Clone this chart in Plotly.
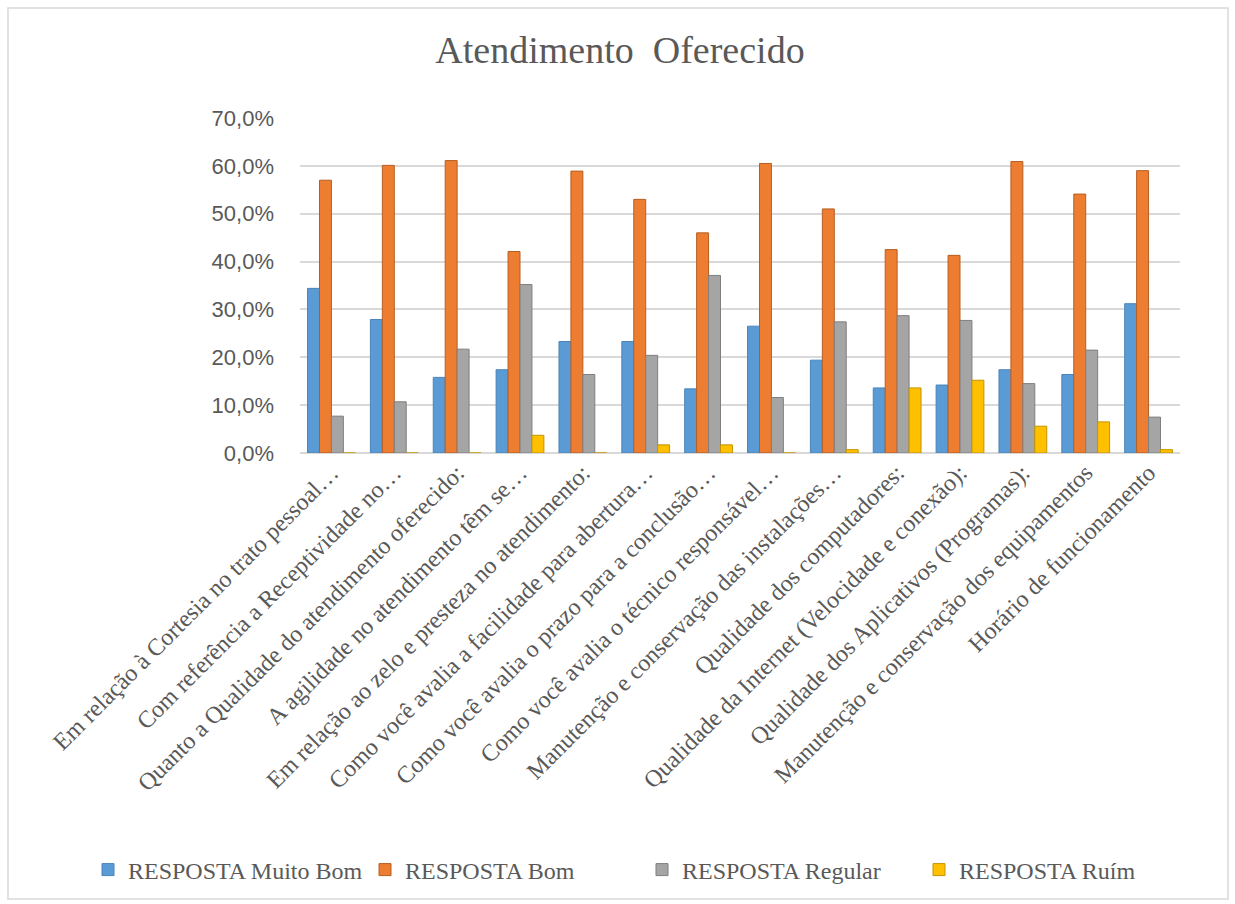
import plotly.graph_objects as go

categories = [
    "Em relação à Cortesia no trato pessoal…",
    "Com referência a Receptividade no…",
    "Quanto a Qualidade do atendimento oferecido:",
    "A agilidade no atendimento têm se…",
    "Em relação ao zelo e presteza no atendimento:",
    "Como você avalia a facilidade para abertura…",
    "Como você avalia o prazo para a conclusão…",
    "Como você avalia o técnico responsável…",
    "Manutenção e conservação das instalações…",
    "Qualidade dos computadores:",
    "Qualidade da Internet (Velocidade e conexão):",
    "Qualidade dos Aplicativos (Programas):",
    "Manutenção e conservação dos equipamentos",
    "Horário de funcionamento",
]

muito_bom = [34.4, 27.9, 15.8, 17.4, 23.3, 23.3, 13.4, 26.5, 19.4, 13.6, 14.2, 17.4, 16.4, 31.2]
bom = [57.0, 60.1, 61.1, 42.1, 58.9, 53.0, 46.0, 60.5, 51.0, 42.5, 41.3, 60.9, 54.1, 59.0]
regular = [7.7, 10.7, 21.7, 35.2, 16.4, 20.4, 37.1, 11.6, 27.4, 28.7, 27.7, 14.5, 21.5, 7.5]
ruim = [0.0, 0.0, 0.0, 3.7, 0.0, 1.7, 1.7, 0.0, 0.7, 13.6, 15.2, 5.6, 6.5, 0.7]

series_names = ["RESPOSTA Muito Bom", "RESPOSTA Bom", "RESPOSTA Regular", "RESPOSTA Ruím"]
series_values = [muito_bom, bom, regular, ruim]
colors = ["#5B9BD5", "#ED7D31", "#A5A5A5", "#FFC000"]
edge_colors = ["#4A84B8", "#B65E22", "#7F7F7F", "#C49400"]
y_ticks = [0, 10, 20, 30, 40, 50, 60, 70]
y_tick_text = [f"{v:.1f}%".replace(".", ",") for v in y_ticks]

fig = go.Figure()
for name, vals, c, ec in zip(series_names, series_values, colors, edge_colors):
    fig.add_trace(go.Bar(
        x=categories, y=vals, name=name,
        marker=dict(color=c, line=dict(color=ec, width=1)),
    ))

W, H = 1235, 904
ml, mr, mt, mb = 300, 55, 118, 451
pw = W - ml - mr
ph = H - mt - mb

def px(xpix):
    return (xpix - ml) / pw

def py(ypix):
    return (H - mb - ypix) / ph

fig.update_layout(
    width=W, height=H,
    margin=dict(l=ml, r=mr, t=mt, b=mb, autoexpand=False),
    paper_bgcolor="white", plot_bgcolor="white",
    barmode="group", bargap=0.24, bargroupgap=0.0,
    title=dict(
        text="Atendimento  Oferecido",
        x=0.502, xref="container", xanchor="center",
        y=1 - 50 / H, yref="container", yanchor="middle",
        font=dict(family="Liberation Serif", size=38, color="#595959"),
    ),
    xaxis=dict(
        tickangle=-45,
        tickfont=dict(family="Liberation Serif", size=24, color="#595959"),
        showline=False, showgrid=False, ticks="",
    ),
    yaxis=dict(
        range=[0, 70], tickvals=y_ticks, ticktext=y_tick_text,
        tickfont=dict(family="Liberation Sans", size=22, color="#595959"),
        showgrid=True, gridcolor="#D9D9D9", gridwidth=2,
        zeroline=True, zerolinecolor="#D9D9D9", zerolinewidth=2,
        showline=False, ticks="", ticklabelstandoff=25,
    ),
    legend=dict(
        orientation="h", xref="paper", x=px(88), xanchor="left",
        yref="paper", y=py(870), yanchor="middle",
        font=dict(family="Liberation Serif", size=24, color="#595959"),
        itemwidth=30, entrywidth=232, entrywidthmode="pixels",
        traceorder="normal", bgcolor="rgba(0,0,0,0)",
    ),
    shapes=[dict(
        type="rect", xref="paper", yref="paper",
        x0=px(8), x1=px(1228), y0=py(899), y1=py(8),
        line=dict(color="#D9D9D9", width=1.5), fillcolor="rgba(0,0,0,0)", layer="below",
    )],
)

fig.write_html("out.html")
